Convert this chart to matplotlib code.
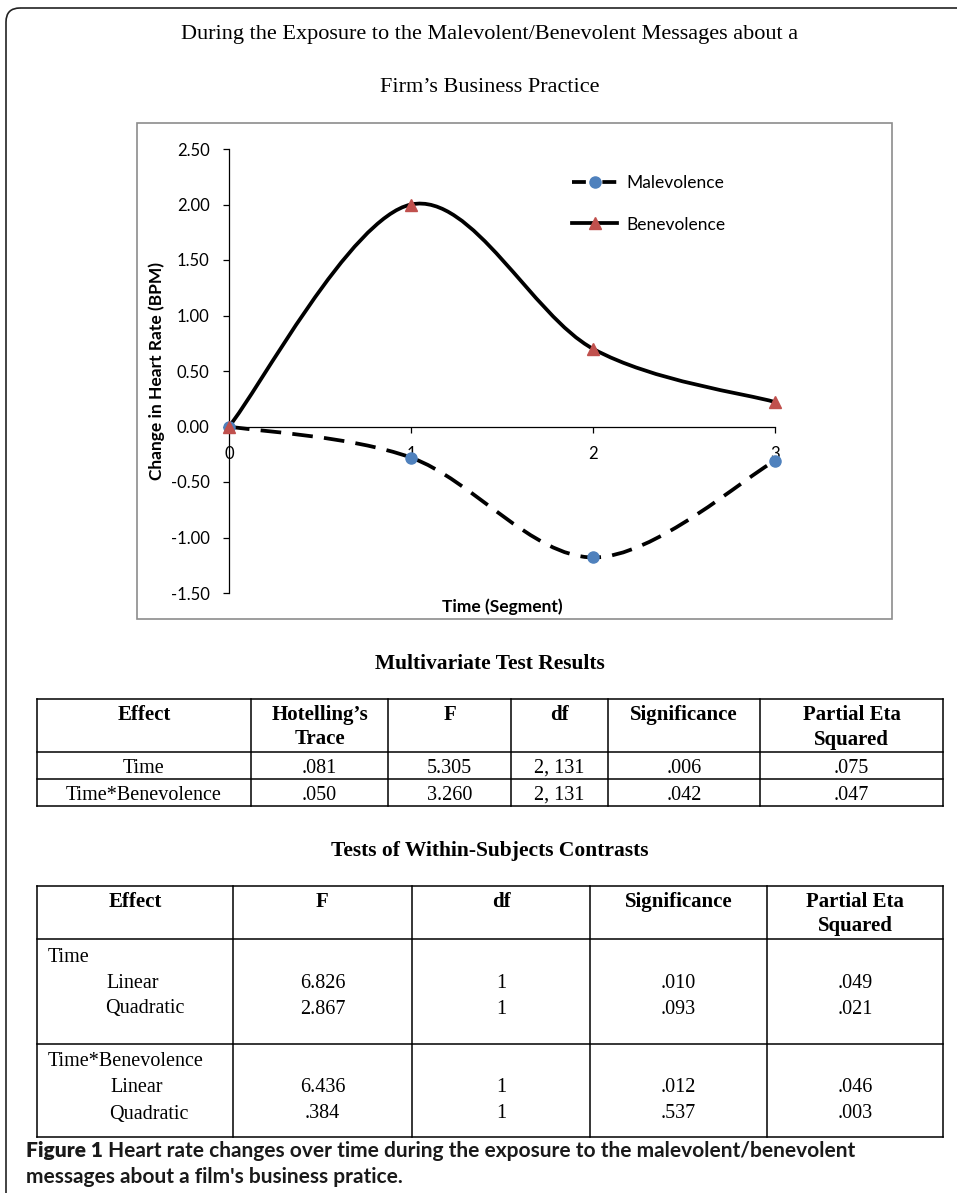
import matplotlib.pyplot as plt
from matplotlib.lines import Line2D
from matplotlib.path import Path
from matplotlib.patches import PathPatch, Rectangle, FancyBboxPatch

# chart data
time_points = [0, 1, 2, 3]
malevolence = [0.00, -0.28, -1.18, -0.31]
benevolence = [0.00, 2.00, 0.70, 0.22]
y_ticks = [-1.5, -1.0, -0.5, 0.0, 0.5, 1.0, 1.5, 2.0, 2.5]

# multivariate table
mv_header = ["Effect", "Hotelling\u2019s\nTrace", "F", "df", "Significance", "Partial Eta\nSquared"]
mv_rows = [
    ["Time", ".081", "5.305", "2, 131", ".006", ".075"],
    ["Time*Benevolence", ".050", "3.260", "2, 131", ".042", ".047"],
]

# within-subjects contrasts table
ct_header = ["Effect", "F", "df", "Significance", "Partial Eta\nSquared"]
ct_groups = ["Time", "Time*Benevolence"]
ct_terms = ["Linear", "Quadratic"]
ct_F = [["6.826", "2.867"], ["6.436", ".384"]]
ct_df = [["1", "1"], ["1", "1"]]
ct_sig = [[".010", ".093"], [".012", ".537"]]
ct_eta = [[".049", ".021"], [".046", ".003"]]

W, H = 957, 1193
SERIF = "Liberation Serif"
SANS = "Lato"
BLUE = "#4F81BD"
RED = "#C0504D"
BODY = 14.5
HEAD = 15


def smooth_path(xs, ys):
    # excel style smoothed line as cubic bezier segments through the points
    pts = list(zip(xs, ys))
    n = len(pts)
    verts = [pts[0]]
    codes = [Path.MOVETO]
    for i in range(n - 1):
        p0 = pts[max(i - 1, 0)]
        p1 = pts[i]
        p2 = pts[i + 1]
        p3 = pts[min(i + 2, n - 1)]
        c1 = (p1[0] + (p2[0] - p0[0]) / 6, p1[1] + (p2[1] - p0[1]) / 6)
        c2 = (p2[0] - (p3[0] - p1[0]) / 6, p2[1] - (p3[1] - p1[1]) / 6)
        verts += [c1, c2, p2]
        codes += [Path.CURVE4] * 3
    return Path(verts, codes)


fig = plt.figure(figsize=(W / 100, H / 100), dpi=100)

# page layer in pixel coordinates
bg = fig.add_axes([0, 0, 1, 1])
bg.set_xlim(0, W)
bg.set_ylim(H, 0)
bg.axis('off')

bg.add_patch(FancyBboxPatch((6, 8), 1100, 1400, boxstyle="round,pad=0,rounding_size=14",
                            fill=False, edgecolor="#222222", lw=1.2, clip_on=False))

bg.text(490, 35, "During the Exposure to the Malevolent/Benevolent Messages about a",
        ha='center', va='center', fontsize=16, family=SERIF)
bg.text(490, 88, "Firm\u2019s Business Practice", ha='center', va='center', fontsize=16, family=SERIF)

# chart frame
bg.add_patch(Rectangle((137, 123), 755, 496, fill=False, edgecolor="#8c8c8c", lw=1.2))

# chart
ax = fig.add_axes([229 / W, 1 - 593 / H, 546 / W, 444 / H])
ax.patch.set_alpha(0)
ax.set_xlim(0, 3)
ax.set_ylim(-1.5, 2.5)
for s in ('top', 'right'):
    ax.spines[s].set_visible(False)
ax.spines['bottom'].set_position(('data', 0))
ax.spines['left'].set_linewidth(0.9)
ax.spines['bottom'].set_linewidth(0.9)

ax.set_yticks(y_ticks)
ax.set_yticklabels([f"{v:.2f}" for v in y_ticks], family=SANS, fontsize=12)
ax.set_xticks(time_points)
ax.set_xticklabels([str(t) for t in time_points], family=SANS, fontsize=12)
ax.tick_params(axis='y', direction='out', length=4, width=0.9, pad=10)
ax.tick_params(axis='x', direction='out', length=4, width=0.9, pad=10)

DASH = (0, (5.5, 3))
ax.add_patch(PathPatch(smooth_path(time_points, malevolence), fill=False, color='black',
                       lw=2.7, linestyle=DASH, capstyle='butt', clip_on=False))
ax.add_patch(PathPatch(smooth_path(time_points, benevolence), fill=False, color='black',
                       lw=2.7, clip_on=False))
ax.plot(time_points, malevolence, 'o', color=BLUE, ms=8, clip_on=False, zorder=5)
ax.plot(time_points, benevolence, '^', color=RED, ms=9, clip_on=False, zorder=6)

handles = [
    Line2D([], [], color='black', lw=2.7, linestyle=(0, (3.7, 1.1, 2.2, 1.1)), dash_capstyle='butt',
           marker='o', mfc=BLUE, mec=BLUE, ms=8),
    Line2D([], [], color='black', lw=2.7, marker='^', mfc=RED, mec=RED, ms=9),
]
ax.legend(handles, ["Malevolence", "Benevolence"], loc='upper left',
          bbox_to_anchor=(572 / W, 1 - 175 / H), bbox_transform=fig.transFigure,
          frameon=False, borderpad=0, borderaxespad=0, handlelength=2.6,
          handletextpad=0.55, labelspacing=1.47, prop={'family': SANS, 'size': 12.5})

ax.set_ylabel("Change in Heart Rate (BPM)", family=SANS, fontsize=12.5, fontweight='bold', va='center')
ax.yaxis.set_label_coords(-72 / 546, 0.5)
ax.set_xlabel("Time (Segment)", family=SANS, fontsize=12.5, fontweight='bold', va='center')
ax.xaxis.set_label_coords(0.5, -14 / 444)

# tables
LW = 1.1

bg.text(490, 664, "Multivariate Test Results", ha='center', va='center', fontsize=15.5,
        family=SERIF, fontweight='bold')

mv_cols = [37, 251, 388, 511, 608, 760, 943]
mv_lines = [699, 752, 779, 806]
for y in mv_lines:
    bg.plot([mv_cols[0], mv_cols[-1]], [y, y], color='black', lw=LW)
for x in mv_cols:
    bg.plot([x, x], [mv_lines[0], mv_lines[-1]], color='black', lw=LW)
for j, label in enumerate(mv_header):
    cx = (mv_cols[j] + mv_cols[j + 1]) / 2
    bg.text(cx, 705, label, ha='center', va='top', fontsize=HEAD, family=SERIF,
            fontweight='bold', linespacing=1.3)
for i, row in enumerate(mv_rows):
    cy = (mv_lines[i + 1] + mv_lines[i + 2]) / 2 + 3
    for j, val in enumerate(row):
        cx = (mv_cols[j] + mv_cols[j + 1]) / 2
        bg.text(cx, cy, val, ha='center', va='center', fontsize=BODY, family=SERIF)

bg.text(490, 851, "Tests of Within-Subjects Contrasts", ha='center', va='center', fontsize=15.5,
        family=SERIF, fontweight='bold')

ct_cols = [37, 233, 412, 590, 767, 943]
ct_lines = [886, 939, 1044, 1137]
for y in ct_lines:
    bg.plot([ct_cols[0], ct_cols[-1]], [y, y], color='black', lw=LW)
for x in ct_cols:
    bg.plot([x, x], [ct_lines[0], ct_lines[-1]], color='black', lw=LW)
for j, label in enumerate(ct_header):
    cx = (ct_cols[j] + ct_cols[j + 1]) / 2
    bg.text(cx, 892, label, ha='center', va='top', fontsize=HEAD, family=SERIF,
            fontweight='bold', linespacing=1.3)

group_top = [957, 1062]
term_x = [(106, 105), (110, 109)]
for g, name in enumerate(ct_groups):
    y0 = group_top[g]
    bg.text(48, y0, name, ha='left', va='center', fontsize=BODY, family=SERIF)
    for k, term in enumerate(ct_terms):
        yy = y0 + 26 * (k + 1)
        bg.text(term_x[g][k], yy, term, ha='left', va='center', fontsize=BODY, family=SERIF)
        for j, col in enumerate([ct_F, ct_df, ct_sig, ct_eta]):
            cx = (ct_cols[j + 1] + ct_cols[j + 2]) / 2
            bg.text(cx, yy, col[g][k], ha='center', va='center', fontsize=BODY, family=SERIF)

# caption
CAP = 15
cap1 = bg.text(26, 1151, "Figure 1", ha='left', va='center', fontsize=CAP, family=SANS,
               fontweight='heavy', color='#1a1a1a')
bg.annotate(" Heart rate changes over time during the exposure to the malevolent/benevolent",
            xy=(1, 0.5), xycoords=cap1, ha='left', va='center', fontsize=CAP, family=SANS,
            fontweight='bold', color='#1a1a1a')
bg.text(26, 1177, "messages about a film's business pratice.", ha='left', va='center', fontsize=CAP,
        family=SANS, fontweight='bold', color='#1a1a1a')

fig.savefig("out.png", dpi=100)
